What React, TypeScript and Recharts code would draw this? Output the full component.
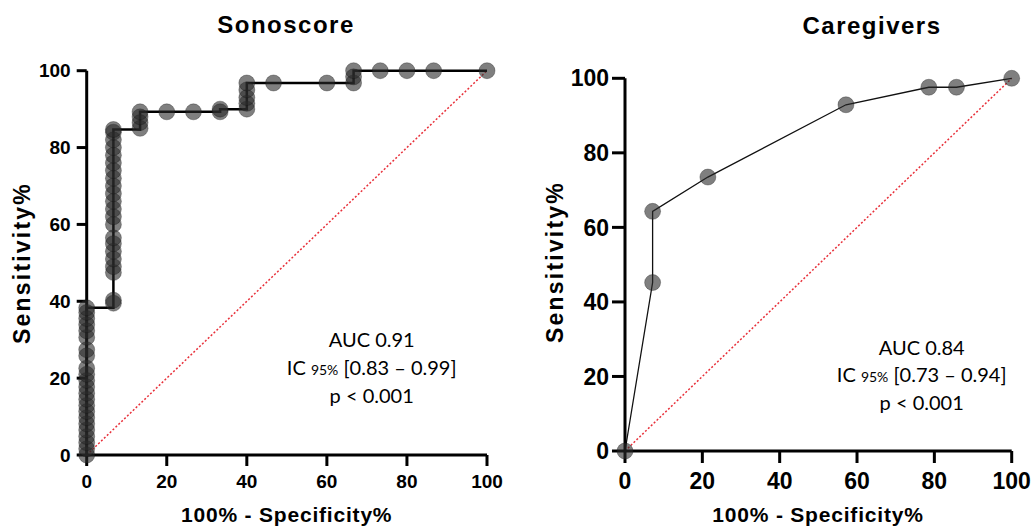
import { ComposedChart, Scatter, Line, XAxis, YAxis, ReferenceLine } from 'recharts'

// Sonoscore ROC: false-positive rate steps and the sensitivities plotted at each step
const sonoFprSteps = [0, 6.67, 13.33, 20, 26.67, 33.33, 40, 46.67, 60, 66.67, 73.33, 80, 86.67, 100]
const sonoSensByStep = [
  [0, 1.6, 3.2, 4.8, 6.5, 8.1, 9.7, 11.3, 12.9, 14.5, 16.1, 17.7, 19.4, 21, 22.6, 25.8, 27.4, 30.6, 32.3, 33.9, 35.5, 37.1, 38.3],
  [39.5, 40.3, 47.5, 49, 51, 53, 55, 56.5, 60, 62, 64, 66, 68, 70, 72, 74, 76, 78, 80, 82, 84, 84.7],
  [85, 86.5, 88, 89.3],
  [89.3],
  [89.3],
  [89.3, 90],
  [90, 91.5, 93, 95, 96.8],
  [96.8],
  [96.8],
  [96.8, 98.4, 100],
  [100],
  [100],
  [100],
  [100],
]
// corners of the Sonoscore step curve
const sonoCurveFpr = [0, 0, 6.67, 13.33, 33.33, 40, 66.67, 100]
const sonoCurveSens = [0, 38.3, 84.7, 89.3, 90, 96.8, 100, 100]

// Caregivers ROC
const careFpr = [0, 7.14, 7.14, 21.43, 57.14, 78.57, 85.71, 100]
const careSens = [0, 45.2, 64.3, 73.5, 92.9, 97.6, 97.6, 100]

const axisTicks = [0, 20, 40, 60, 80, 100]

const sonoPoints = sonoFprSteps.flatMap((x, i) => sonoSensByStep[i].map((y) => ({ x, y })))
const sonoCurve = sonoCurveFpr.map((x, i) => ({ x, y: sonoCurveSens[i] }))
const carePoints = careFpr.map((x, i) => ({ x, y: careSens[i] }))

const FONT = '"Liberation Sans", Arial, sans-serif'
const NOTE_FONT = 'Lato, "Open Sans", sans-serif'

const dot = (props: any) => (
  <circle
    cx={props.cx}
    cy={props.cy}
    r={8}
    fill="#2a2a2a"
    fillOpacity={0.6}
    stroke="#111"
    strokeOpacity={0.3}
    strokeWidth={1}
  />
)

const axisLine = { stroke: '#000', strokeWidth: 3 }

export default function App() {
  return (
    <div style={{ position: 'absolute', left: 0, top: 0, width: 1032, height: 527, background: '#fff' }}>
      <div style={{ position: 'absolute', left: 0, top: 0 }}>
        <ComposedChart width={520} height={527} margin={{ top: 70.7, right: 33, bottom: 12, left: 26.7 }}>
          <XAxis
            dataKey="x"
            type="number"
            domain={[0, 100]}
            ticks={axisTicks}
            height={60}
            axisLine={axisLine}
            tickLine={axisLine}
            tickSize={11}
            tickMargin={9}
            tick={{ fill: '#000', fontSize: 19, fontWeight: 700, fontFamily: FONT }}
          />
          <YAxis
            dataKey="y"
            type="number"
            domain={[0, 100]}
            ticks={axisTicks}
            width={60}
            axisLine={axisLine}
            tickLine={axisLine}
            tickSize={10}
            tickMargin={6}
            tick={{ fill: '#000', fontSize: 19, fontWeight: 700, fontFamily: FONT }}
          />
          <ReferenceLine
            segment={[{ x: 0, y: 0 }, { x: 100, y: 100 }]}
            stroke="#e8303a"
            strokeWidth={1.5}
            strokeDasharray="2 2"
          />
          <Scatter data={sonoPoints} shape={dot} isAnimationActive={false} />
          <Line
            data={sonoCurve}
            dataKey="y"
            type="stepAfter"
            stroke="#000"
            strokeWidth={2.5}
            dot={false}
            activeDot={false}
            isAnimationActive={false}
          />
        </ComposedChart>
      </div>
      <div style={{ position: 'absolute', left: 520, top: 0 }}>
        <ComposedChart width={512} height={527} margin={{ top: 78.3, right: 20.3, bottom: 16, left: 45 }}>
          <XAxis
            dataKey="x"
            type="number"
            domain={[0, 100]}
            ticks={axisTicks}
            height={60}
            axisLine={axisLine}
            tickLine={axisLine}
            tickSize={12}
            tickMargin={10}
            tick={{ fill: '#000', fontSize: 23, fontWeight: 700, fontFamily: FONT }}
          />
          <YAxis
            dataKey="y"
            type="number"
            domain={[0, 100]}
            ticks={axisTicks}
            width={60}
            axisLine={axisLine}
            tickLine={axisLine}
            tickSize={13}
            tickMargin={3}
            tick={{ fill: '#000', fontSize: 23, fontWeight: 700, fontFamily: FONT }}
          />
          <ReferenceLine
            segment={[{ x: 0, y: 0 }, { x: 100, y: 100 }]}
            stroke="#e8303a"
            strokeWidth={1.5}
            strokeDasharray="2 2"
          />
          <Scatter data={carePoints} shape={dot} isAnimationActive={false} />
          <Line
            data={carePoints}
            dataKey="y"
            type="linear"
            stroke="#111"
            strokeWidth={1.3}
            dot={false}
            activeDot={false}
            isAnimationActive={false}
          />
        </ComposedChart>
      </div>
      <svg
        width={1032}
        height={527}
        style={{ position: 'absolute', left: 0, top: 0, pointerEvents: 'none' }}
      >
        <g fontFamily={FONT} fontWeight={700} fill="#000" textAnchor="middle">
          <text x={286} y={33} fontSize={24} letterSpacing={1.5}>Sonoscore</text>
          <text x={872} y={34} fontSize={24} letterSpacing={1.5}>Caregivers</text>
          <text x={286.7} y={521.7} fontSize={21} letterSpacing={0.8}>100% - Specificity%</text>
          <text x={818} y={522} fontSize={21} letterSpacing={0.8}>100% - Specificity%</text>
          <text transform="translate(30,263) rotate(-90)" fontSize={23} letterSpacing={2.2}>Sensitivity%</text>
          <text transform="translate(563,262) rotate(-90)" fontSize={23} letterSpacing={2.2}>Sensitivity%</text>
        </g>
        <g fontFamily={NOTE_FONT} fill="#000" textAnchor="middle" fontSize={20}>
          <text x={371.7} y={347}>AUC 0.91</text>
          <text x={371.7} y={375}>
            IC <tspan fontSize={14}>95%</tspan> [0.83 – 0.99]
          </text>
          <text x={371.7} y={403}>p &lt; 0.001</text>
          <text x={921.7} y={355}>AUC 0.84</text>
          <text x={921.7} y={382}>
            IC <tspan fontSize={14}>95%</tspan> [0.73 – 0.94]
          </text>
          <text x={921.7} y={410}>p &lt; 0.001</text>
        </g>
      </svg>
    </div>
  )
}
